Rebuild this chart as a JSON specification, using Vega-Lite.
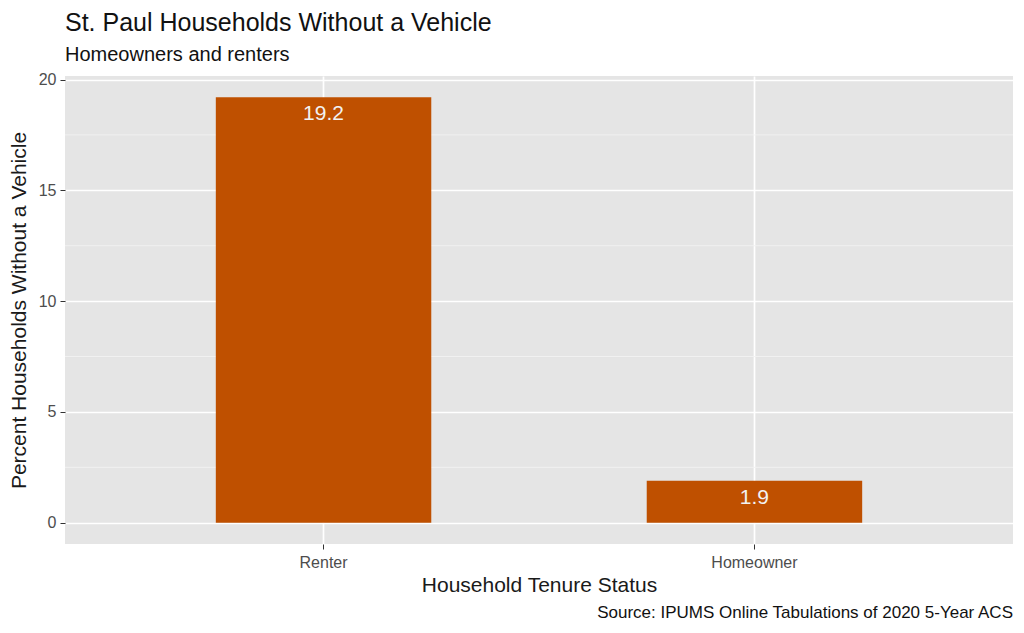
{
  "$schema": "https://vega.github.io/schema/vega-lite/v6.json",
  "width": 948,
  "height": 468,
  "autosize": {"type": "none"},
  "padding": {"left": 65, "top": 76, "right": 11, "bottom": 89},
  "background": "white",
  "config": {
    "font": "Liberation Sans",
    "view": {"fill": "#E5E5E5", "stroke": null},
    "axis": {
      "gridColor": "white",
      "gridWidth": 1.7,
      "domain": false,
      "tickColor": "#333333",
      "tickSize": 5,
      "tickWidth": 1,
      "labelColor": "#4D4D4D",
      "labelFontSize": 16,
      "labelFont": "Liberation Sans",
      "titleFont": "Liberation Sans",
      "titleFontSize": 21,
      "titleFontWeight": "normal",
      "titleColor": "#1A1A1A"
    }
  },
  "title": {
    "text": "St. Paul Households Without a Vehicle",
    "subtitle": "Homeowners and renters",
    "anchor": "start",
    "frame": "group",
    "fontSize": 25,
    "fontWeight": "normal",
    "color": "#111111",
    "subtitleFontSize": 20,
    "subtitleColor": "#111111",
    "subtitlePadding": 9,
    "offset": 7
  },
  "datasets": {
    "bars": [
      {"tenure": "Renter", "pct": 19.2},
      {"tenure": "Homeowner", "pct": 1.9}
    ],
    "minor": [{"v": 2.5}, {"v": 7.5}, {"v": 12.5}, {"v": 17.5}],
    "caption": [{"text": "Source: IPUMS Online Tabulations of 2020 5-Year ACS", "y": -4.3}]
  },
  "layer": [
    {
      "data": {"name": "minor"},
      "mark": {"type": "rule", "color": "#F2F2F2", "strokeWidth": 0.9},
      "encoding": {
        "y": {"field": "v", "type": "quantitative", "scale": {"domain": [-0.96, 20.16], "nice": false, "zero": false}}
      }
    },
    {
      "data": {"name": "bars"},
      "layer": [
        {
          "mark": {"type": "bar", "color": "#BF5000"},
          "encoding": {
            "x": {
              "field": "tenure",
              "type": "nominal",
              "sort": ["Renter", "Homeowner"],
              "scale": {"paddingInner": 0.5, "paddingOuter": 0.35},
              "axis": {"labelAngle": 0, "title": "Household Tenure Status", "grid": true, "bandPosition": 0.5, "labelPadding": 5, "titlePadding": 4}
            },
            "y": {
              "field": "pct",
              "type": "quantitative",
              "scale": {"domain": [-0.96, 20.16], "nice": false, "zero": false},
              "axis": {"values": [0, 5, 10, 15, 20], "title": "Percent Households Without a Vehicle", "labelPadding": 4, "titlePadding": 9}
            }
          }
        },
        {
          "mark": {"type": "text", "color": "#F2F2F2", "fontSize": 21, "baseline": "top", "dy": 6},
          "encoding": {
            "x": {"field": "tenure", "type": "nominal", "sort": ["Renter", "Homeowner"]},
            "y": {"field": "pct", "type": "quantitative"},
            "text": {"field": "pct", "type": "quantitative", "format": ".1f"}
          }
        }
      ]
    },
    {
      "data": {"name": "caption"},
      "mark": {"type": "text", "align": "right", "baseline": "alphabetic", "fontSize": 17, "color": "#111111"},
      "encoding": {
        "text": {"field": "text"},
        "x": {"value": "width"},
        "y": {"field": "y", "type": "quantitative"}
      }
    }
  ]
}
